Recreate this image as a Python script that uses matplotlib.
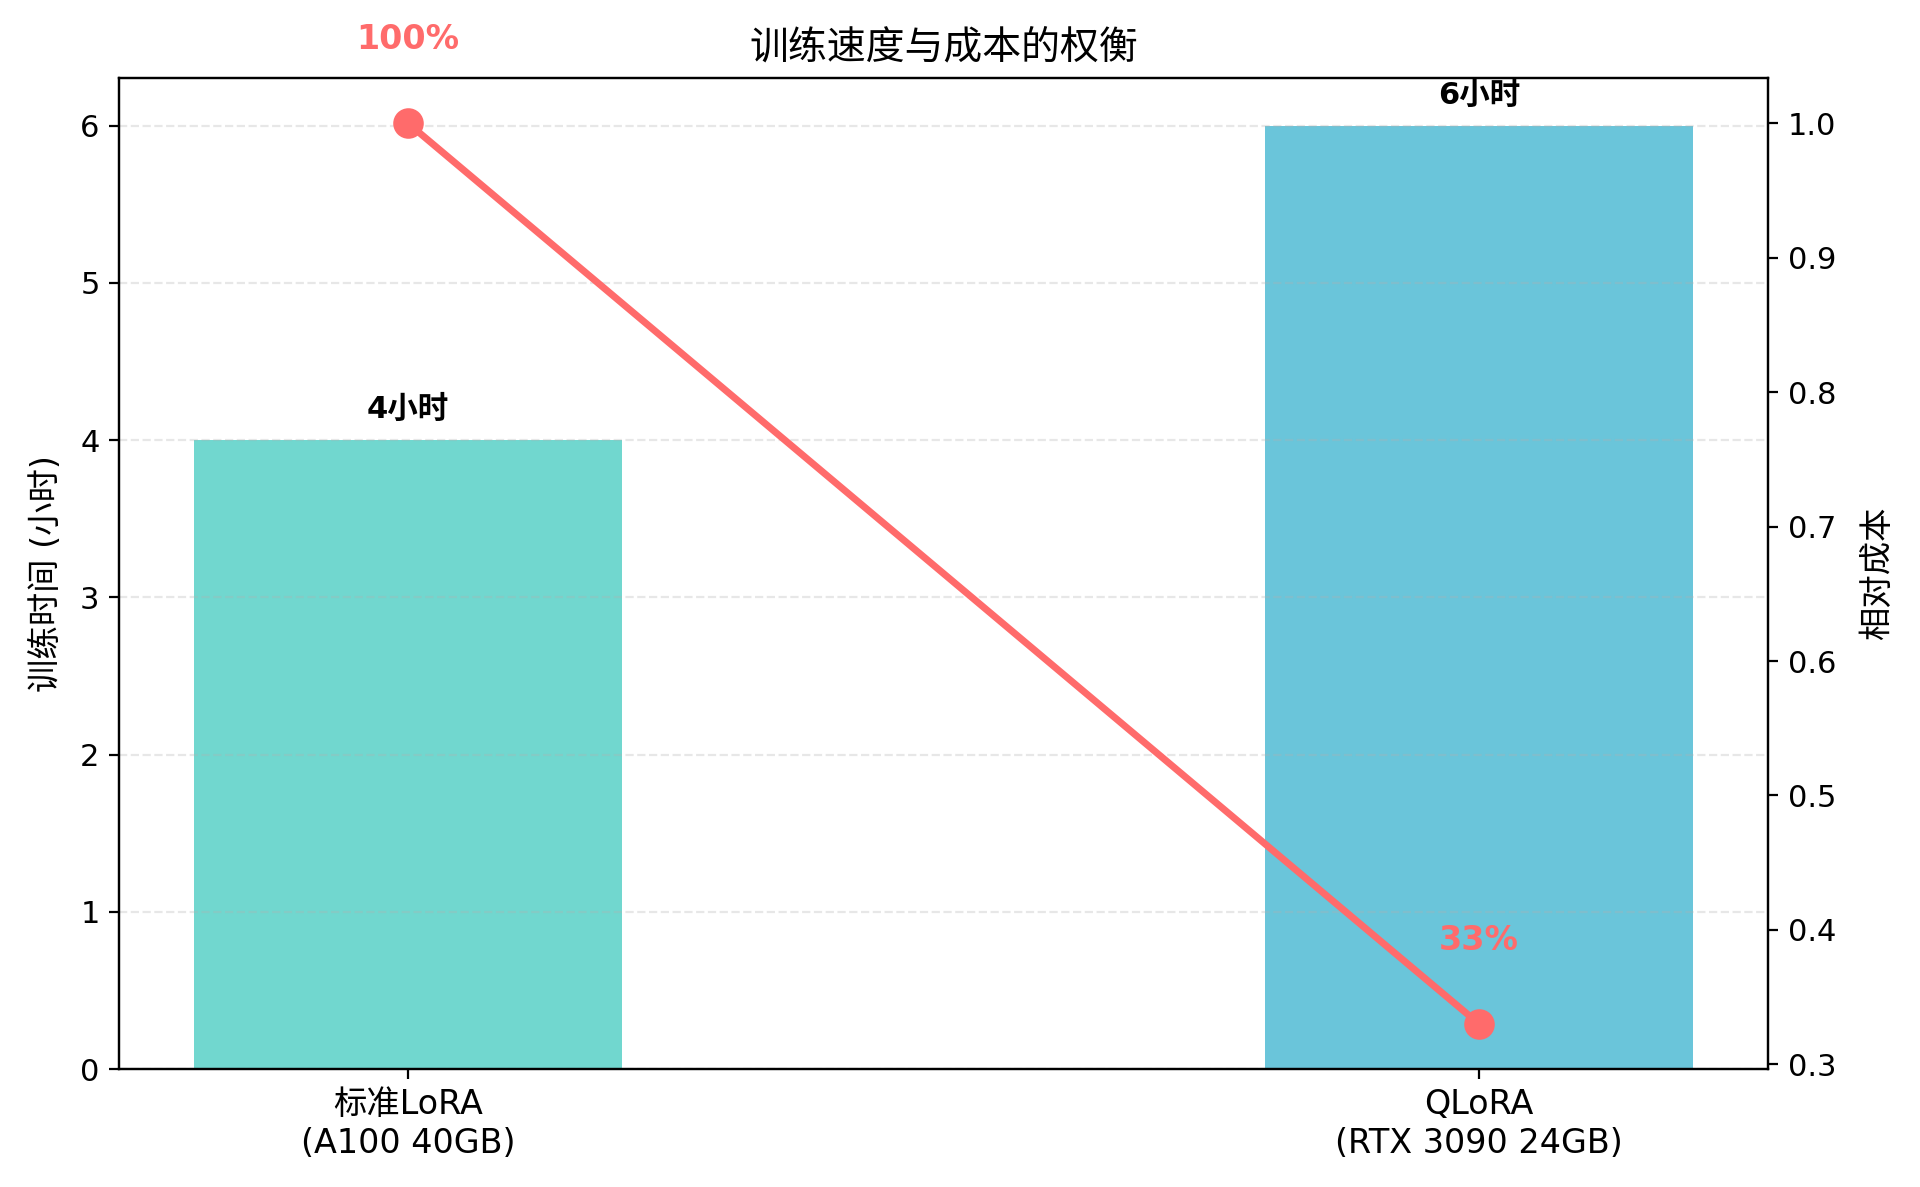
import matplotlib
matplotlib.use("Agg")
import matplotlib.pyplot as plt
import numpy as np

plt.rcParams['font.family'] = ['DejaVu Sans', 'Noto Sans CJK SC']

methods = ['标准LoRA\n(A100 40GB)', 'QLoRA\n(RTX 3090 24GB)']
train_hours = [4, 6]
hour_labels = ['4小时', '6小时']
rel_cost = [1.0, 0.33]
cost_labels = ['100%', '33%']
colors = ['#4ECDC4', '#45B7D1']

fig, ax1 = plt.subplots(figsize=(9.6, 5.935), dpi=200)
fig.subplots_adjust(left=0.062, right=0.921, top=0.934, bottom=0.0994)

x = np.arange(len(methods))
bars = ax1.bar(x, train_hours, width=0.4, color=colors, alpha=0.8)
for xi, h, lab in zip(x, train_hours, hour_labels):
    ax1.text(xi, h + 0.1, lab, ha='center', va='bottom', fontweight='bold', fontsize=11)
ax1.set_ylabel('训练时间 (小时)', fontsize=12, labelpad=6)
ax1.set_xticks(x)
ax1.set_xticklabels(methods, fontsize=12)
ax1.tick_params(axis='y', labelsize=11)
ax1.grid(axis='y', linestyle='--', alpha=0.3)

ax2 = ax1.twinx()
ax2.plot(x, rel_cost, color='#FF6B6B', linewidth=2.5, marker='o', markersize=10)
for xi, c, lab in zip(x, rel_cost, cost_labels):
    ax2.text(xi, c + 0.05, lab, ha='center', va='bottom', fontweight='bold',
             color='#FF6B6B', fontsize=12)
ax2.set_ylabel('相对成本', fontsize=12, labelpad=9)
ax2.tick_params(axis='y', labelsize=11)

ax1.set_title('训练速度与成本的权衡', fontsize=14, pad=7)

plt.savefig('out.png', dpi=200)
